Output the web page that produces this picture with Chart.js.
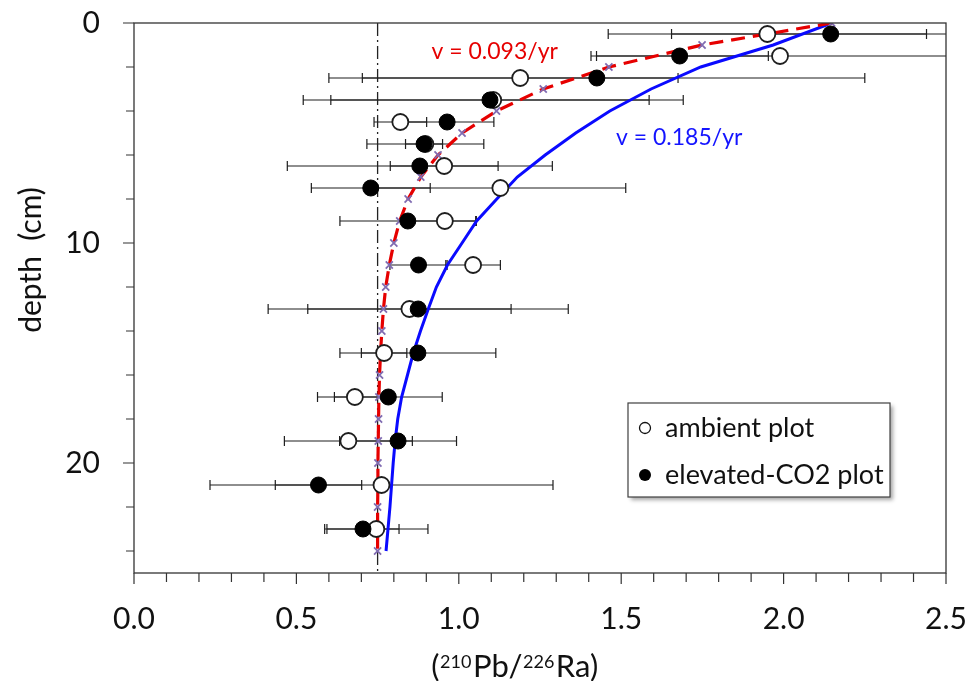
<!DOCTYPE html>
<html>
<head>
<meta charset="utf-8">
<title>210Pb/226Ra depth profile</title>
<script src="https://cdn.jsdelivr.net/npm/chart.js@4/dist/chart.umd.min.js"></script>
<style>
  html, body { margin: 0; padding: 0; background: #ffffff; }
  #wrap { width: 971px; height: 681px; }
</style>
</head>
<body>
<div id="wrap"><canvas id="profile" width="971" height="681"></canvas></div>
<script>
// Sample depths (cm) and activity ratios with one-sided error half-widths
const sampleDepths   = [0.5, 1.5, 2.5, 3.5, 4.5, 5.5, 6.5, 7.5, 9, 11, 13, 15, 17, 19, 21, 23];
const ambientRatio   = [1.950, 1.989, 1.189, 1.106, 0.820, 0.897, 0.955, 1.128, 0.957, 1.044, 0.848, 0.770, 0.680, 0.660, 0.762, 0.746];
const ambientErr     = [0.490, 0.565, 0.486, 0.585, 0.081, 0.180, 0.166, 0.386, 0.097, 0.084, 0.313, 0.070, 0.115, 0.197, 0.528, 0.159];
const elevatedRatio  = [2.145, 1.680, 1.425, 1.096, 0.964, 0.893, 0.880, 0.729, 0.843, 0.876, 0.875, 0.874, 0.783, 0.813, 0.568, 0.705];
const elevatedErr    = [0.490, 0.273, 0.825, 0.490, 0.144, 0.057, 0.408, 0.183, 0.209, 0.088, 0.462, 0.240, 0.166, 0.180, 0.133, 0.111];

// Model profiles (cm) for two mixing velocities
const modelDepths    = [0, 1, 2, 3, 4, 5, 6, 7, 8, 9, 10, 11, 12, 13, 14, 15, 16, 17, 18, 19, 20, 21, 22, 23, 24];
const modelSlow      = [2.148, 1.749, 1.462, 1.260, 1.116, 1.010, 0.936, 0.883, 0.844, 0.818, 0.800, 0.786, 0.775, 0.768, 0.763, 0.759, 0.756, 0.754, 0.753, 0.752, 0.751, 0.751, 0.750, 0.750, 0.750];
const modelFast      = [2.148, 1.968, 1.745, 1.592, 1.465, 1.360, 1.266, 1.180, 1.117, 1.055, 1.010, 0.965, 0.931, 0.906, 0.882, 0.860, 0.842, 0.824, 0.812, 0.804, 0.798, 0.793, 0.788, 0.782, 0.776];
const slowLabel      = 'v = 0.093/yr';
const fastLabel      = 'v = 0.185/yr';

// Supported (background) activity ratio
const supportedRatio = 0.75;
const supportedSpan  = [0, 25];

// Axis ranges and tick labels
const ratioRange     = [0, 2.5];
const depthRange     = [0, 25];
const ratioTicks     = [0, 0.5, 1.0, 1.5, 2.0, 2.5];
const depthTicks     = [0, 10, 20];
const seriesNames    = ['ambient plot', 'elevated-CO2 plot'];

const FONT = 'Lato, "Open Sans", sans-serif';
const INK = '#111111';

const toPoints = (ys, xs) => ys.map((d, i) => ({ x: xs[i], y: d }));

// keep the plot area fixed: no extra room for overhanging tick labels
const noOverhang = (s) => {
  s.paddingTop = 0; s.paddingBottom = 0; s.paddingLeft = 0; s.paddingRight = 0;
};

// Error bars, frame, ticks, titles, curve labels and the boxed legend
const decor = {
  id: 'profileDecor',
  beforeDatasetsDraw(chart) {
    const { ctx, chartArea: a, scales: { x, y } } = chart;
    ctx.save();
    ctx.beginPath();
    ctx.rect(a.left, a.top - 6, a.right - a.left, a.bottom - a.top + 12);
    ctx.clip();
    ctx.strokeStyle = '#1e1e1e';
    ctx.lineWidth = 1.2;
    const bars = (vals, errs) => {
      vals.forEach((v, i) => {
        const py = y.getPixelForValue(sampleDepths[i]);
        const lo = x.getPixelForValue(v - errs[i]);
        const hi = x.getPixelForValue(v + errs[i]);
        ctx.beginPath();
        ctx.moveTo(Math.max(lo, a.left), py);
        ctx.lineTo(Math.min(hi, a.right), py);
        if (lo >= a.left) { ctx.moveTo(lo, py - 5); ctx.lineTo(lo, py + 5); }
        if (hi <= a.right) { ctx.moveTo(hi, py - 5); ctx.lineTo(hi, py + 5); }
        ctx.stroke();
      });
    };
    bars(ambientRatio, ambientErr);
    bars(elevatedRatio, elevatedErr);
    ctx.restore();
  },
  afterDraw(chart) {
    const { ctx, chartArea: a, scales: { x, y } } = chart;
    ctx.save();

    // plot frame
    ctx.strokeStyle = '#333333';
    ctx.lineWidth = 1.3;
    ctx.strokeRect(a.left, a.top, a.right - a.left, a.bottom - a.top);

    // tick marks: depth every 2 cm (outside left), ratio every 0.1 (below)
    ctx.lineWidth = 1.2;
    ctx.beginPath();
    for (let d = depthRange[0]; d < depthRange[1]; d += 2) {
      const py = y.getPixelForValue(d);
      const len = depthTicks.includes(d) ? 11 : 8;
      ctx.moveTo(a.left - len, py);
      ctx.lineTo(a.left, py);
    }
    for (let k = 0; k <= 25; k++) {
      const v = k / 10;
      const px = x.getPixelForValue(v);
      const len = (k % 5 === 0) ? 11 : 9;
      ctx.moveTo(px, a.bottom);
      ctx.lineTo(px, a.bottom + len);
    }
    ctx.stroke();

    // y axis title
    ctx.fillStyle = INK;
    ctx.font = '30px ' + FONT;
    ctx.textAlign = 'center';
    ctx.textBaseline = 'middle';
    ctx.save();
    ctx.translate(31, 260);
    ctx.rotate(-Math.PI / 2);
    ctx.fillText('depth  (cm)', 0, 0);
    ctx.restore();

    // x axis title with superscript mass numbers
    const parts = [
      ['(', false], ['210', true], ['Pb/', false], ['226', true], ['Ra)', false]
    ];
    const mainFont = '31px ' + FONT, supFont = '18px ' + FONT;
    let total = 0;
    const widths = parts.map(([t, sup]) => {
      ctx.font = sup ? supFont : mainFont;
      const w = ctx.measureText(t).width + (sup ? 1.5 : 0.5);
      total += w;
      return w;
    });
    let cx = 515 - total / 2;
    const base = 677;
    ctx.textAlign = 'left';
    ctx.textBaseline = 'alphabetic';
    parts.forEach(([t, sup], i) => {
      ctx.font = sup ? supFont : mainFont;
      ctx.fillText(t, cx, sup ? base - 9 : base);
      cx += widths[i];
    });

    // curve labels
    ctx.font = '23px ' + FONT;
    ctx.fillStyle = 'rgb(230,0,0)';
    ctx.fillText(slowLabel, x.getPixelForValue(0.916), y.getPixelForValue(1.64));
    ctx.fillStyle = 'rgb(20,20,255)';
    ctx.fillText(fastLabel, x.getPixelForValue(1.484), y.getPixelForValue(5.53));

    // legend box
    const lx = a.right - 318, ly = a.bottom - 170, lw = 262, lh = 94;
    ctx.save();
    ctx.shadowColor = 'rgba(0,0,0,0.35)';
    ctx.shadowOffsetX = 3;
    ctx.shadowOffsetY = 3;
    ctx.shadowBlur = 4;
    ctx.fillStyle = '#ffffff';
    ctx.fillRect(lx, ly, lw, lh);
    ctx.restore();
    ctx.strokeStyle = '#404040';
    ctx.lineWidth = 1.2;
    ctx.strokeRect(lx, ly, lw, lh);

    const rows = [ly + 25, ly + 72];
    ctx.lineWidth = 1.3;
    ctx.beginPath();
    ctx.arc(lx + 17, rows[0], 5.5, 0, Math.PI * 2);
    ctx.fillStyle = '#ffffff';
    ctx.fill();
    ctx.strokeStyle = '#111';
    ctx.stroke();
    ctx.beginPath();
    ctx.arc(lx + 17, rows[1], 6, 0, Math.PI * 2);
    ctx.fillStyle = '#000';
    ctx.fill();

    ctx.font = '27px ' + FONT;
    ctx.fillStyle = INK;
    ctx.textAlign = 'left';
    ctx.textBaseline = 'middle';
    ctx.fillText(seriesNames[0], lx + 37, rows[0]);
    ctx.fillText(seriesNames[1], lx + 37, rows[1]);

    ctx.restore();
  }
};

new Chart(document.getElementById('profile'), {
  type: 'scatter',
  data: {
    datasets: [
      {
        label: seriesNames[1],
        data: toPoints(sampleDepths, elevatedRatio),
        pointRadius: 8,
        pointHoverRadius: 8,
        pointBackgroundColor: '#000000',
        pointBorderColor: '#000000',
        pointBorderWidth: 1,
        order: 0
      },
      {
        label: seriesNames[0],
        data: toPoints(sampleDepths, ambientRatio),
        pointRadius: 8,
        pointHoverRadius: 8,
        pointBackgroundColor: '#ffffff',
        pointBorderColor: '#1e1e1e',
        pointBorderWidth: 1.8,
        order: 1
      },
      {
        label: slowLabel,
        data: toPoints(modelDepths, modelSlow),
        showLine: true,
        borderColor: 'rgb(230,0,0)',
        borderWidth: 3.2,
        borderDash: [14, 8],
        tension: 0,
        pointStyle: 'crossRot',
        pointRadius: 5,
        pointBorderColor: 'rgb(128,108,178)',
        pointBackgroundColor: 'rgb(128,108,178)',
        pointBorderWidth: 1.8,
        order: 2
      },
      {
        label: fastLabel,
        data: toPoints(modelDepths, modelFast),
        showLine: true,
        borderColor: 'rgb(10,10,255)',
        borderWidth: 3,
        tension: 0,
        pointRadius: 0,
        order: 3
      },
      {
        label: 'supported',
        data: supportedSpan.map(d => ({ x: supportedRatio, y: d })),
        showLine: true,
        borderColor: '#222222',
        borderWidth: 1.3,
        borderDash: [13, 4, 2, 4],
        pointRadius: 0,
        order: 4
      }
    ]
  },
  options: {
    responsive: false,
    animation: false,
    devicePixelRatio: 1,
    layout: { padding: { top: 23, right: 25, left: 0, bottom: 0 } },
    plugins: { legend: { display: false }, tooltip: { enabled: false } },
    events: [],
    scales: {
      x: {
        type: 'linear',
        position: 'bottom',
        min: ratioRange[0],
        max: ratioRange[1],
        afterBuildTicks: (s) => { s.ticks = ratioTicks.map(v => ({ value: v })); },
        afterFit: (s) => { s.height = 108; noOverhang(s); },
        grid: { display: false, drawTicks: false },
        border: { display: false },
        ticks: {
          padding: 28,
          color: INK,
          font: { family: FONT, size: 30 },
          maxRotation: 0,
          callback: (v) => Number(v).toFixed(1)
        }
      },
      y: {
        type: 'linear',
        reverse: true,
        min: depthRange[0],
        max: depthRange[1],
        afterBuildTicks: (s) => { s.ticks = depthTicks.map(v => ({ value: v })); },
        afterFit: (s) => { s.width = 134; noOverhang(s); },
        grid: { display: false, drawTicks: false },
        border: { display: false },
        ticks: {
          padding: 34,
          color: INK,
          font: { family: FONT, size: 30 },
          callback: (v) => String(v)
        }
      }
    }
  },
  plugins: [decor]
});
</script>
</body>
</html>
